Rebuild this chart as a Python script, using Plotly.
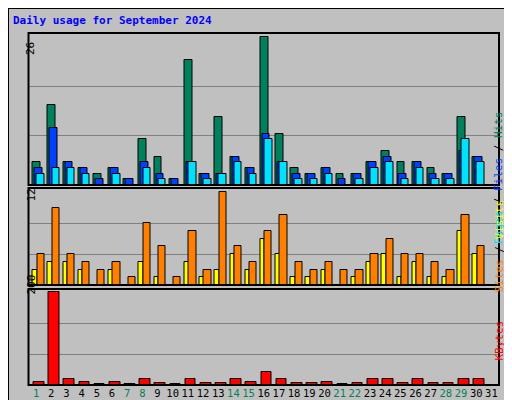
import plotly.graph_objects as go

days = list(range(1, 32))
hits  = [4,14,4,3,2,3,1,8,5,1,22,2,12,5,3,26,9,3,2,3,2,2,4,6,4,4,3,2,12,5,0]
files = [3,10,4,3,1,3,1,4,2,1,4,2,2,5,3,9,4,2,2,3,1,2,4,5,2,4,2,2,6,5,0]
pages = [2,3,3,2,0,2,0,3,1,0,4,1,2,4,2,8,4,1,1,2,0,1,3,4,1,3,1,1,8,4,0]
sites = [2,3,3,2,0,2,0,3,1,0,3,1,2,4,2,6,4,1,1,2,0,1,3,4,1,3,1,1,7,4,0]
visits= [4,10,4,3,2,3,1,8,5,1,7,2,12,5,3,7,9,3,2,3,2,2,4,6,4,4,3,2,9,5,0]
kbytes= [7,200,12,7,3,7,3,12,5,3,12,5,5,14,7,27,12,5,5,7,3,5,12,14,5,12,5,5,14,14,0]
weekend = {1,7,8,14,15,21,22,28,29}

fig = go.Figure()
line = dict(color="black", width=1)
def bar(y, color, off, w, xa, ya):
    fig.add_trace(go.Bar(x=days, y=y, marker=dict(color=color, line=line),
                         offset=off, width=w, xaxis=xa, yaxis=ya, showlegend=False))

bar(hits, "#00805c", -0.22, 0.5, "x", "y")
bar(files, "#0040ff", -0.09, 0.5, "x", "y")
bar(pages, "#00e0ff", 0.05, 0.5, "x", "y")
bar(sites, "#ffff00", -0.22, 0.3, "x2", "y2")
bar(visits, "#ff8000", 0.06, 0.48, "x2", "y2")
bar(kbytes, "#ff0000", -0.17, 0.7, "x3", "y3")

xd = [20.5/512, 491/512]
ticktext = [f'<span style="color:{"#00805c" if d in weekend else "black"}">{d}</span>' for d in days]
ax = dict(range=[0.5, 31.5], domain=xd, showgrid=False, zeroline=False, fixedrange=True,
          showticklabels=False, ticks="", automargin=False)
gridc = "#808080"
def yax(dom, rng, tv):
    return dict(domain=dom, range=rng, tickvals=tv, showticklabels=False, showgrid=True,
                gridcolor=gridc, gridwidth=1, zeroline=False, ticks="", automargin=False)

fig.update_layout(
    width=512, height=400, margin=dict(l=0, r=0, t=0, b=0, pad=0), autosize=False,
    paper_bgcolor="#c0c0c0", plot_bgcolor="#c0c0c0", barmode="overlay", bargap=0,
    font=dict(family="DejaVu Sans Mono", size=11, color="black"),
    xaxis=dict(ax, anchor="y"),
    xaxis2=dict(ax, anchor="y2"),
    xaxis3=dict(ax, anchor="y3", showticklabels=True, tickvals=days, ticktext=ticktext,
                tickangle=0, tickfont=dict(size=10.5)),
    yaxis=yax([1-177/400, 1-25/400], [0, 26.7], [26/3, 52/3]),
    yaxis2=yax([1-277/400, 1-180/400], [0, 12.56], [4, 8]),
    yaxis3=yax([1-377/400, 1-281/400], [0, 207], [200/3, 400/3]),
)

shapes = []
for (y0, y1) in [(25, 177), (180, 277), (281, 377)]:
    shapes.append(dict(type="rect", xref="paper", yref="paper", x0=xd[0], x1=xd[1],
                       y0=1-y1/400, y1=1-y0/400, line=dict(color="black", width=2)))
shapes.append(dict(type="rect", xref="paper", yref="paper", x0=0, x1=1, y0=0, y1=1,
                   line=dict(color="black", width=2)))
shapes.append(dict(type="rect", xref="paper", yref="paper", x0=500/512, x1=1, y0=0, y1=1,
                   fillcolor="#808080", line=dict(width=0), layer="below"))
shapes.append(dict(type="rect", xref="paper", yref="paper", x0=0, x1=1, y0=0, y1=5/400,
                   fillcolor="#808080", line=dict(width=0), layer="below"))
fig.update_layout(shapes=shapes)

ann = [
    dict(x=3/512, y=1-4/400, xanchor="left", yanchor="top",
         text="<b>Daily usage for September 2024</b>", font=dict(color="#0000ff", size=11)),
    dict(x=14/512, y=1-32/400, text="26", textangle=-90),
    dict(x=14/512, y=1-187/400, text="12", textangle=-90),
    dict(x=14/512, y=1-289/400, text="200", textangle=-90),
    dict(x=499/512, y=1-101/400, textangle=-90,
         text='<span style="color:#00e0ff">Pages</span> / <span style="color:#0040ff">Files</span> / <span style="color:#00805c">Hits</span>'),
    dict(x=499/512, y=1-238/400, textangle=-90,
         text='<span style="color:#ff8000">Sites</span> / <span style="color:#ffff00">Visits</span>'),
    dict(x=499/512, y=1-355/400, textangle=-90,
         text='<span style="color:#ff0000">KBytes</span>'),
]
for a in ann:
    a.setdefault("xref", "paper"); a.setdefault("yref", "paper"); a["showarrow"] = False
fig.update_layout(annotations=ann)

fig.write_html("out.html")
